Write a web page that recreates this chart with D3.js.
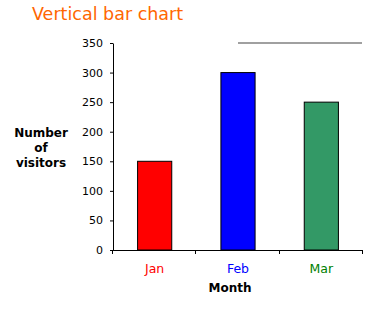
<!DOCTYPE html>
<html>
<head>
<meta charset="utf-8">
<script src="https://cdn.jsdelivr.net/npm/d3@7"></script>
<style>
  body { margin: 0; background: #fff; }
  svg { display: block; font-family: "DejaVu Sans", Verdana, sans-serif; }
</style>
</head>
<body>
<script>
const width = 377, height = 311;

// data
const months = ["Jan", "Feb", "Mar"];
const visitors = [150, 300, 250];
const bar_colors = ["#ff0000", "#0000ff", "#339966"];
const label_colors = ["#ff0000", "#0000ff", "#008000"];
const y_ticks = [0, 50, 100, 150, 200, 250, 300, 350];

const margin = {left: 113, right: 14, top: 43, bottom: 61};

const svg = d3.select("body").append("svg")
  .attr("width", width)
  .attr("height", height);

const x = d3.scaleBand()
  .domain(months)
  .range([margin.left, width - margin.right])
  .padding(0);

const y = d3.scaleLinear()
  .domain([0, 350])
  .range([height - margin.bottom, margin.top]);

const bar_w = x.bandwidth() * 0.41;

// title
svg.append("text")
  .attr("x", 32)
  .attr("y", 20)
  .attr("fill", "#ff6600")
  .style("font-size", "17.5px")
  .text("Vertical bar chart");

// grey line top right
svg.append("line")
  .attr("x1", x("Feb") + x.bandwidth() / 2)
  .attr("x2", width - margin.right - 1)
  .attr("y1", y(350))
  .attr("y2", y(350))
  .attr("stroke", "#808080")
  .attr("stroke-width", 1.3);

// bars
svg.append("g")
  .selectAll("rect")
  .data(months)
  .join("rect")
    .attr("x", (d) => x(d) + (x.bandwidth() - bar_w) / 2)
    .attr("y", (d, i) => y(visitors[i]))
    .attr("width", bar_w)
    .attr("height", (d, i) => y(0) - y(visitors[i]))
    .attr("fill", (d, i) => bar_colors[i])
    .attr("stroke", "#000")
    .attr("stroke-width", 1);

// y axis
const y_axis = svg.append("g")
  .attr("transform", `translate(${margin.left},0)`)
  .call(d3.axisLeft(y).tickValues(y_ticks).tickSize(3).tickSizeOuter(0).tickPadding(7));
y_axis.select(".domain").attr("stroke", "#000");
y_axis.selectAll("text")
  .style("font-size", "11px")
  .style("font-family", "DejaVu Sans, Verdana, sans-serif")
  .attr("fill", "#000");

// x axis: line plus ticks at band edges
const x_axis = svg.append("g");
x_axis.append("line")
  .attr("x1", margin.left)
  .attr("x2", width - margin.right)
  .attr("y1", y(0) + 0.5)
  .attr("y2", y(0) + 0.5)
  .attr("stroke", "#000");
x_axis.selectAll(".xtick")
  .data([margin.left].concat(months.map((m) => x(m) + x.bandwidth())))
  .join("line")
    .attr("class", "xtick")
    .attr("x1", (d) => Math.round(d) - 0.5)
    .attr("x2", (d) => Math.round(d) - 0.5)
    .attr("y1", y(0))
    .attr("y2", y(0) + 4)
    .attr("stroke", "#000");

x_axis.selectAll(".xlabel")
  .data(months)
  .join("text")
    .attr("class", "xlabel")
    .attr("x", (d) => x(d) + x.bandwidth() / 2)
    .attr("y", 273)
    .attr("text-anchor", "middle")
    .attr("fill", (d, i) => label_colors[i])
    .style("font-size", "12.5px")
    .text((d) => d);

// axis titles
svg.append("text")
  .attr("x", x.range()[0] + (x.range()[1] - x.range()[0]) / 2 - 8)
  .attr("y", 292)
  .attr("text-anchor", "middle")
  .style("font-size", "12px")
  .style("font-weight", "bold")
  .text("Month");

const y_title = svg.append("text")
  .attr("text-anchor", "middle")
  .style("font-size", "12px")
  .style("font-weight", "bold");
["Number", "of", "visitors"].forEach((t, i) => {
  y_title.append("tspan")
    .attr("x", 41)
    .attr("y", 137 + i * 15)
    .text(t);
});
</script>
</body>
</html>
